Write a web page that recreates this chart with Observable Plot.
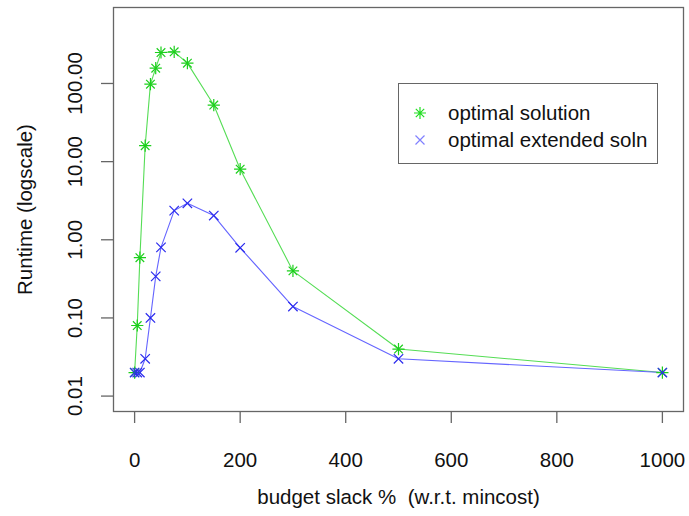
<!DOCTYPE html>
<html>
<head>
<meta charset="utf-8">
<script src="https://cdn.jsdelivr.net/npm/d3@7"></script>
<script src="https://cdn.jsdelivr.net/npm/@observablehq/plot@0.6"></script>
<style>
  body { margin: 0; background: white; }
  #wrap { position: relative; width: 689px; height: 516px; font-family: "Liberation Sans", Arial, Helvetica, sans-serif; }
  #legend { position: absolute; left: 398px; top: 83px; width: 260px; height: 81px; border: 1.3px solid #666; box-sizing: border-box; background: white; }
  .lrow { position: absolute; left: 0; height: 24px; font-size: 20.5px; line-height: 24px; color: #111; white-space: nowrap; }
  .lrow svg { position: absolute; left: 13px; top: 4px; }
  .lrow span { position: absolute; left: 49px; top: 0; }
</style>
</head>
<body>
<div id="wrap"></div>
<script>
// ---- data ----
const slack = [0, 5, 10, 20, 30, 40, 50, 75, 100, 150, 200, 300, 500, 1000];
const optimalSolution = [0.02, 0.08, 0.59, 16, 98, 157, 249, 254, 182, 53, 8.0, 0.40, 0.04, 0.02];
const optimalExtended = [0.02, 0.02, 0.02, 0.03, 0.10, 0.34, 0.80, 2.36, 2.93, 2.04, 0.79, 0.14, 0.03, 0.02];
const xTicks = [0, 200, 400, 600, 800, 1000];
const yTicks = [0.01, 0.1, 1, 10, 100];
const seriesNames = ["optimal solution", "optimal extended soln"];
const xTitle = "budget slack %  (w.r.t. mincost)";
const yTitle = "Runtime (logscale)";

const solData = slack.map((x, i) => ({x, y: optimalSolution[i]}));
const extData = slack.map((x, i) => ({x, y: optimalExtended[i]}));

// custom R-like symbols
const plusSym = {draw(ctx, size) { const h = Math.sqrt(size / Math.PI); ctx.moveTo(-h, 0); ctx.lineTo(h, 0); ctx.moveTo(0, -h); ctx.lineTo(0, h); }};
const timesSym = {draw(ctx, size) { const h = Math.sqrt(size / Math.PI); ctx.moveTo(-h, -h); ctx.lineTo(h, h); ctx.moveTo(-h, h); ctx.lineTo(h, -h); }};

const green = "#1ccf1c", greenLine = "#55dd55";
const blue = "#2a2aee", blueLine = "#6565ff";
const fmt = d3.format(".2f");

const chart = Plot.plot({
  width: 689,
  height: 516,
  marginLeft: 113,
  marginRight: 6,
  marginTop: 7,
  marginBottom: 105,
  style: {fontFamily: '"Liberation Sans", Arial, Helvetica, sans-serif', fontSize: "20.5px", background: "white", color: "#111"},
  x: {domain: [-40, 1040], label: null},
  y: {type: "log", domain: [0.00635, 938], label: null},
  marks: [
    Plot.axisX({ticks: xTicks, tickFormat: d => String(d), tickSize: 12, tickPadding: 29, stroke: "#666", strokeWidth: 1.3, fill: "#111", fontSize: 20.5}),
    Plot.axisY({ticks: yTicks, tickSize: 12, tickFormat: () => "", stroke: "#666", strokeWidth: 1.3}),
    Plot.text(yTicks, {y: d => d, text: d => fmt(d), frameAnchor: "left", dx: -38, rotate: -90, textAnchor: "middle", lineAnchor: "middle", fontSize: 20.5, fill: "#111"}),
    Plot.text([yTitle], {text: d => d, frameAnchor: "left", dx: -88, rotate: -90, textAnchor: "middle", lineAnchor: "middle", fontSize: 20.5, fill: "#111"}),
    Plot.text([xTitle], {text: d => d, frameAnchor: "bottom", dy: 86, textAnchor: "middle", lineAnchor: "middle", fontSize: 20.5, fill: "#111"}),
    Plot.frame({stroke: "#666", strokeWidth: 1.3}),
    Plot.line(solData, {x: "x", y: "y", stroke: greenLine, strokeWidth: 1.1}),
    Plot.line(extData, {x: "x", y: "y", stroke: blueLine, strokeWidth: 1.1}),
    Plot.dot(solData, {x: "x", y: "y", symbol: plusSym, r: 6.1, fill: "none", stroke: green, strokeWidth: 1.2}),
    Plot.dot(solData, {x: "x", y: "y", symbol: timesSym, r: 4.3, fill: "none", stroke: green, strokeWidth: 1.2}),
    Plot.dot(extData, {x: "x", y: "y", symbol: timesSym, r: 4.7, fill: "none", stroke: blue, strokeWidth: 1.2})
  ]
});

const wrap = document.getElementById("wrap");
wrap.appendChild(chart);

// legend
const legend = document.createElement("div");
legend.id = "legend";
legend.innerHTML = `
  <div class="lrow" style="top:17px">
    <svg width="16" height="16" viewBox="-8 -8 16 16"><g stroke="#22dd22" stroke-width="1.2" fill="none">
      <path d="M-6,0L6,0M0,-6L0,6M-4.2,-4.2L4.2,4.2M-4.2,4.2L4.2,-4.2"/></g></svg>
    <span>${seriesNames[0]}</span></div>
  <div class="lrow" style="top:44px">
    <svg width="16" height="16" viewBox="-8 -8 16 16"><g stroke="#8080ff" stroke-width="1.2" fill="none">
      <path d="M-4.5,-4.5L4.5,4.5M-4.5,4.5L4.5,-4.5"/></g></svg>
    <span>${seriesNames[1]}</span></div>`;
wrap.appendChild(legend);
</script>
</body>
</html>
